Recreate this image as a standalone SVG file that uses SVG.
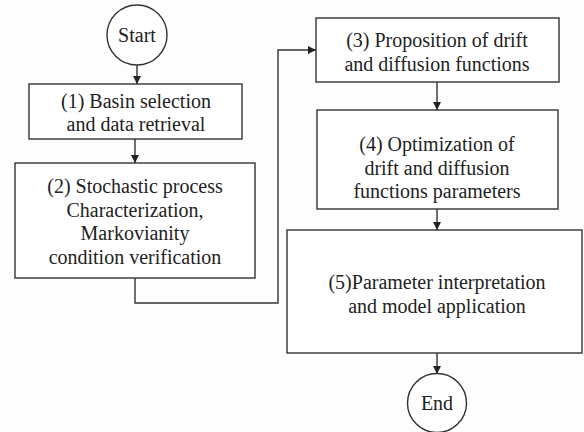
<svg xmlns="http://www.w3.org/2000/svg" width="584" height="432" viewBox="0 0 584 432">
<defs>
<style>
.box{fill:#ffffff;stroke:#333333;stroke-width:1.4}
.ln{fill:none;stroke:#333333;stroke-width:1.4}
.t{font-family:'Liberation Serif','DejaVu Serif',serif;font-size:20px;fill:#222222;text-anchor:middle}
</style>
<marker id="ah" viewBox="0 0 10 10" refX="10" refY="5" markerWidth="8" markerHeight="8" markerUnits="userSpaceOnUse" orient="auto">
<path d="M0,0 L10,5 L0,10 Z" fill="#222222"/>
</marker>
</defs>
<rect width="584" height="432" fill="#fdfdfd"/>
<g id="connectors">
<line class="ln" x1="137" y1="65" x2="137" y2="84" marker-end="url(#ah)"/>
<line class="ln" x1="135" y1="139" x2="135" y2="163" marker-end="url(#ah)"/>
<polyline class="ln" points="135,278 135,303 278,303 278,50 316,50" marker-end="url(#ah)"/>
<line class="ln" x1="437" y1="82" x2="437" y2="110" marker-end="url(#ah)"/>
<line class="ln" x1="437" y1="209" x2="437" y2="230" marker-end="url(#ah)"/>
<line class="ln" x1="437" y1="353" x2="437" y2="374" marker-end="url(#ah)"/>
</g>
<g id="start">
<circle class="box" cx="137" cy="35" r="30"/>
<text class="t" font-family="Liberation Serif, serif" x="137" y="42">Start</text>
</g>
<g id="step1">
<rect class="box" x="29" y="84" width="213" height="55"/>
<text class="t" x="136" y="108">(1) Basin selection</text>
<text class="t" x="136" y="131">and data retrieval</text>
</g>
<g id="step2">
<rect class="box" x="15" y="163" width="240" height="115"/>
<text class="t" x="135" y="193">(2) Stochastic process</text>
<text class="t" x="135" y="216.5">Characterization,</text>
<text class="t" x="135" y="240">Markovianity</text>
<text class="t" x="135" y="263.5">condition verification</text>
</g>
<g id="step3">
<rect class="box" x="316" y="18" width="243" height="64"/>
<text class="t" x="437" y="47">(3) Proposition of drift</text>
<text class="t" x="437" y="70.5">and diffusion functions</text>
</g>
<g id="step4">
<rect class="box" x="317" y="110" width="241" height="99"/>
<text class="t" x="437" y="151">(4) Optimization of</text>
<text class="t" x="437" y="174.5">drift and diffusion</text>
<text class="t" x="437" y="198">functions parameters</text>
</g>
<g id="step5">
<rect class="box" x="287" y="230" width="295" height="123"/>
<text class="t" x="437" y="289">(5)Parameter interpretation</text>
<text class="t" x="437" y="312.5">and model application</text>
</g>
<g id="end">
<circle class="box" cx="437" cy="403" r="29.5"/>
<text class="t" x="437" y="410">End</text>
</g>
</svg>
